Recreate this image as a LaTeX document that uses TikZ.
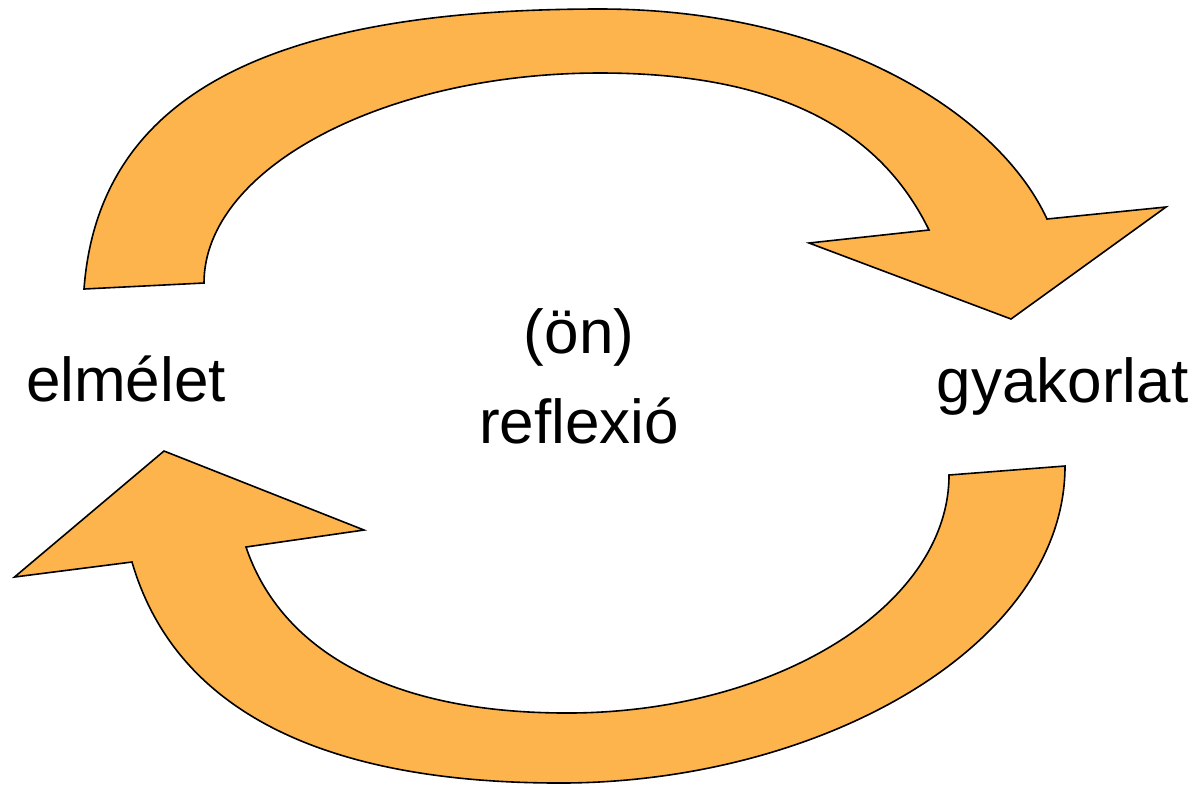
\documentclass[tikz,border=0pt]{standalone}
\usepackage{fontspec}
\setmainfont{Liberation Sans}
\definecolor{arroworange}{RGB}{253,180,77}
\begin{document}
\begin{tikzpicture}[x=0.5pt,y=-0.5pt,
  arrowshape/.style={fill=arroworange,draw=black,line width=0.8pt,line join=miter},
  label/.style={font=\fontsize{31}{45}\selectfont,inner sep=0pt,text=black}]
\useasboundingbox (0,0) rectangle (1202,784);
% top arrow: elmelet -> gyakorlat
\draw[arrowshape] (84,289) .. controls (99,89) and (280,9) .. (600,9)
  .. controls (830,9) and (997,111) .. (1047,219)
  -- (1166,207) -- (1011,319) -- (809,243) -- (929,230)
  .. controls (887,144.5) and (800,73) .. (600,73)
  .. controls (385,73) and (204,168) .. (204,283) -- cycle;
% bottom arrow: gyakorlat -> elmelet
\draw[arrowshape] (1065,466) .. controls (1065,646) and (820,783) .. (560,783)
  .. controls (300,783) and (171,696) .. (132,562)
  -- (14.5,577) -- (164,451) -- (364,530) -- (246,547)
  .. controls (278,642) and (377,713) .. (567,713)
  .. controls (777,713) and (949,605) .. (949,475) -- cycle;
\node[label,anchor=base] (elmelet) at (126,401) {elmélet};
\node[label,anchor=base] (gyakorlat) at (1062.5,402) {gyakorlat};
\node[label,align=center,anchor=center] (reflexio) at (579,376) {(ön)\\reflexió};
\end{tikzpicture}
\end{document}
